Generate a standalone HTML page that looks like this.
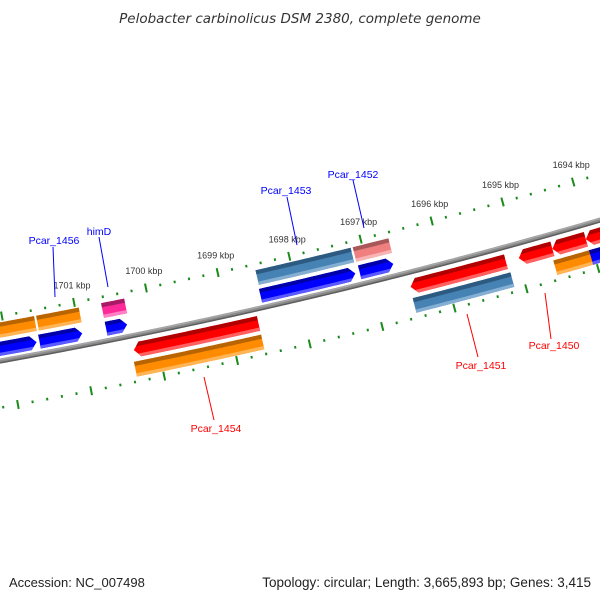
<!DOCTYPE html>
<html><head><meta charset="utf-8"><style>
html,body{margin:0;padding:0;background:#fff;}
svg{display:block;}
text{font-family:"Liberation Sans",sans-serif;}
</style></head><body>
<svg id="map" width="600" height="600" viewBox="0 0 600 600" xmlns="http://www.w3.org/2000/svg">
<rect width="600" height="600" fill="#fff"/>
<text x="300" y="23" text-anchor="middle" font-size="13.5" font-style="italic" fill="#333" style="font-family:'DejaVu Sans',sans-serif">Pelobacter carbinolicus DSM 2380, complete genome</text>
<g id="ticks"></g>
<g id="backbone"></g>
<g id="feats"></g>
<g id="labels"></g>
<text x="9" y="587" font-size="13" fill="#222">Accession: NC_007498</text>
<text x="591" y="587" text-anchor="end" font-size="13.5" fill="#222">Topology: circular; Length: 3,665,893 bp; Genes: 3,415</text>
</svg>
<script>
// ---- data ----
const tickKbp = [1701, 1700, 1699, 1698, 1697, 1696, 1695, 1694];
const featStart = [1702.55, 1701.56, 1700.64, 1698.50, 1697.12, 1702.49, 1701.54, 1700.64, 1698.49, 1697.13, 1700.33, 1696.50, 1694.99, 1694.52, 1694.05, 1700.36, 1696.51, 1694.55, 1694.05];
const featEnd   = [1701.60, 1700.97, 1700.35, 1697.18, 1696.65, 1701.57, 1700.95, 1700.32, 1697.16, 1696.63, 1698.61, 1695.17, 1694.52, 1694.05, 1693.00, 1698.61, 1695.15, 1694.03, 1693.00];
const featLane  = [1, 1, 1, 1, 1, 2, 2, 2, 2, 2, -1, -1, -1, -1, -1, -2, -2, -2, -2];
const featColor = ["blue","blue","blue","blue","blue","orange","orange","pink","steel","salmon","red","red","red","red","red","orange","steel","orange","blue"];
const featArrow = [1, 1, 1, 1, 1, 0, 0, 0, 0, 0, -1, -1, -1, -1, -1, 0, 0, 0, 0];
const labelText = ["Pcar_1456","himD","Pcar_1453","Pcar_1452","Pcar_1454","Pcar_1451","Pcar_1450"];
const labelColor = ["#0000ff","#0000ff","#0000ff","#0000ff","#ff0000","#ff0000","#ff0000"];
const labelX  = [54, 99, 286, 353, 216, 481, 554];
const labelY  = [244, 235, 194, 178, 432, 369, 349];
const lineX1 = [53, 99, 287, 353, 204, 467, 545];
const lineY1 = [247, 237, 197, 180, 377, 314, 293];
const lineX2 = [55, 108, 297, 364, 214, 478, 551];
const lineY2 = [297, 287, 245, 228, 420, 357, 339];

// ---- geometry ----
const CX = -1024.4, CY = -5347.8, R = 5800;
function ang(bp){ return 0.19200 + (1701 - bp) * 0.012749; }
function pt(bp, off){ const a = ang(bp), r = R - off; return [CX + r*Math.sin(a), CY + r*Math.cos(a)]; }
function arc(b1, b2, off){ const out=[]; const n=Math.max(2, Math.ceil(Math.abs(b2-b1)*20)); for(let i=0;i<=n;i++){ out.push(pt(b1+(b2-b1)*i/n, off)); } return out; }
const NS = "http://www.w3.org/2000/svg";
function mk(tag, attrs, parent){ const e=document.createElementNS(NS,tag); for(const k in attrs) e.setAttribute(k, attrs[k]); parent.appendChild(e); return e; }
function ptsStr(p){ return p.map(q=>q[0].toFixed(2)+","+q[1].toFixed(2)).join(" "); }

// ---- ticks ----
const tg = document.getElementById("ticks");
for (let i = 0; i <= 60; i++) {
  const bp = 1693 + i * 0.2;
  const major = Math.abs(bp - Math.round(bp)) < 1e-6;
  [44, -46].forEach(c => {
    const a = major ? pt(bp, c - 4.5) : pt(bp, c - 1.3);
    const b = major ? pt(bp, c + 4.5) : pt(bp, c + 1.3);
    const l = mk("line", {x1:a[0], y1:a[1], x2:b[0], y2:b[1], stroke:"#1a8a1a", "stroke-width":2}, tg);
    
    
  });
}
tickKbp.forEach(k => {
  const p = pt(k, 44);
  const t = mk("text", {x:(p[0]-2).toFixed(1), y:(p[1]-14).toFixed(1), "text-anchor":"middle", "font-size":"9", fill:"#333"}, tg);
  t.textContent = k + " kbp";
  
  
});

// ---- backbone ----
const bg = document.getElementById("backbone");
function bbLine(off, col, w){ const p = arc(1703, 1692.5, off); const pl = mk("polyline", {points:ptsStr(p), fill:"none", stroke:col, "stroke-width":w}, bg);
  
   }
bbLine(0, "#8a8a8a", 5);
bbLine(1.5, "#a8a8a8", 1.5);
bbLine(-1.8, "#5e5e5e", 1.5);

// ---- features ----
const palette = {
  blue:   ["#0000ff", "#0000a8", "#5a5aff"],
  orange: ["#ff8c00", "#b86400", "#ffb455"],
  red:    ["#ff0000", "#b00000", "#ff6060"],
  steel:  ["#4682b4", "#2c5a80", "#84aed2"],
  pink:   ["#ff2a9a", "#a81a66", "#ff80c4"],
  salmon: ["#f08080", "#a85858", "#f8b4b4"]
};
const laneOff = {"1":[5,19], "2":[23,38], "-1":[-7,-22], "-2":[-26,-41]};
const HEAD = 0.085;
const fg = document.getElementById("feats");
function shape(s, e, oTop, oBot, arrow, bTop, bBot){
  const om = (oTop + oBot) / 2, h = Math.abs(oTop - oBot) / 2;
  function endAt(off, side){
    if (side === 'R' && arrow === 1) return e + HEAD - HEAD * (1 - Math.abs(off - om) / h);
    if (side === 'L' && arrow === -1) return s - HEAD + HEAD * (1 - Math.abs(off - om) / h);
    return side === 'R' ? e : s;
  }
  const pts = [];
  arc(endAt(bTop,'L'), endAt(bTop,'R'), bTop).forEach(p=>pts.push(p));
  if (arrow === 1 && bTop > om && bBot < om) pts.push(pt(e, om));
  arc(endAt(bBot,'R'), endAt(bBot,'L'), bBot).forEach(p=>pts.push(p));
  if (arrow === -1 && bTop > om && bBot < om) pts.push(pt(s, om));
  return pts;
}
for (let i = 0; i < featStart.length; i++) {
  const [o1, o2] = laneOff[String(featLane[i])];
  const oTop = Math.max(o1, o2), oBot = Math.min(o1, o2);
  const t = oTop - oBot;
  const col = palette[featColor[i]];
  const g = mk("g", {}, fg);
  
  
  const s = featStart[i], e = featEnd[i], ar = featArrow[i];
  mk("polygon", {points:ptsStr(shape(s, e, oTop, oBot, ar, oTop, oBot)), fill:col[0]}, g);
  mk("polygon", {points:ptsStr(shape(s, e, oTop, oBot, ar, oTop, oTop - 0.28*t)), fill:col[1]}, g);
  mk("polygon", {points:ptsStr(shape(s, e, oTop, oBot, ar, oBot + 0.22*t, oBot)), fill:col[2]}, g);
}

// ---- labels ----
const lg = document.getElementById("labels");
labelText.forEach((txt, i) => {
  const ln = mk("line", {x1:lineX1[i], y1:lineY1[i], x2:lineX2[i], y2:lineY2[i], stroke:labelColor[i], "stroke-width":1}, lg);
  
  
  const tx = mk("text", {x:labelX[i], y:labelY[i], "text-anchor":"middle", "font-size":"10.5", fill:labelColor[i]}, lg);
  tx.textContent = txt;
  
  
});
</script>
</body></html>
